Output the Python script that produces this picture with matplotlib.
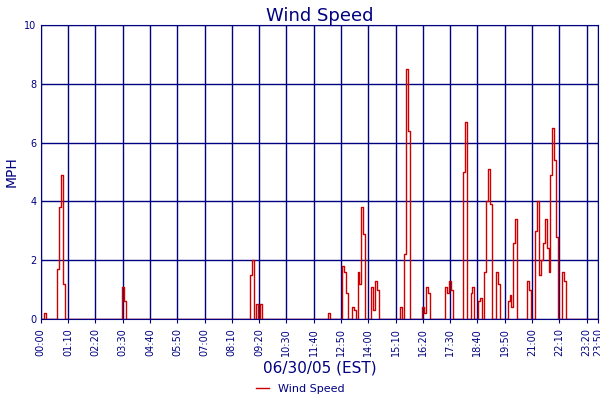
import numpy as np
import matplotlib
matplotlib.use("Agg")
import matplotlib.pyplot as plt

# nonzero readings: minute of day -> mph (everything else reads 0)
minutes = [10, 45, 50, 55, 60, 210, 215, 540, 545, 555, 565, 740,
           775, 780, 785, 800, 805, 815, 820, 825, 830, 850, 855, 860, 865,
           925, 935, 940, 945, 980, 985, 990, 995, 1040, 1045, 1050, 1055,
           1085, 1090, 1105, 1110, 1125, 1130, 1140, 1145, 1150, 1155,
           1170, 1175, 1200, 1205, 1210, 1215, 1220, 1250, 1255,
           1270, 1275, 1280, 1285, 1290, 1295, 1300,
           1305, 1310, 1315, 1320, 1325, 1340, 1345]
speeds = [0.2, 1.7, 3.8, 4.9, 1.2, 1.1, 0.6, 1.5, 2.0, 0.5, 0.5, 0.2,
          1.8, 1.6, 0.9, 0.4, 0.3, 1.6, 1.2, 3.8, 2.9, 1.1, 0.3, 1.3, 1.0,
          0.4, 2.2, 8.5, 6.4, 0.4, 0.2, 1.1, 0.9, 1.1, 0.9, 1.3, 1.0,
          5.0, 6.7, 0.9, 1.1, 0.6, 0.7, 1.6, 4.0, 5.1, 3.9,
          1.6, 1.2, 0.6, 0.8, 0.4, 2.6, 3.4, 1.3, 1.0,
          3.0, 4.0, 1.5, 2.0, 2.6, 3.4, 2.4,
          1.6, 4.9, 6.5, 5.4, 2.8, 1.6, 1.3]

tick_minutes = list(range(0, 1331, 70)) + [1400, 1430]
tick_labels = [f"{m // 60:02d}:{m % 60:02d}" for m in tick_minutes]

t = np.arange(0, 1431, 5)
v = np.zeros(len(t))
for m, s in zip(minutes, speeds):
    v[m // 5] = s

navy = "#000080"
fig = plt.figure(figsize=(6, 4), dpi=100)
ax = fig.add_axes([0.068, 0.2025, 0.929, 0.735])
ax.plot(t, v, color="#cc0000", lw=1, drawstyle="steps-mid", label="Wind Speed")
ax.set_xlim(0, 1430)
ax.set_ylim(0, 10)
ax.set_xticks(tick_minutes)
ax.set_xticklabels(tick_labels, rotation=90, fontsize=7, color=navy)
ax.set_yticks(range(0, 11, 2))
ax.tick_params(axis="y", labelsize=7, colors=navy, length=0, pad=3)
ax.tick_params(axis="x", colors=navy, length=3)
ax.grid(True, color=navy, lw=1)
for sp in ax.spines.values():
    sp.set_color(navy)
ax.set_title("Wind Speed", color=navy, fontsize=13, pad=3)
ax.set_ylabel("MPH", color=navy, fontsize=10, labelpad=4)
ax.set_xlabel("06/30/05 (EST)", color=navy, fontsize=11, labelpad=3)
leg = fig.legend(loc="lower center", bbox_to_anchor=(0.5, -0.01), frameon=False,
                 fontsize=8, handlelength=1.2)
for txt in leg.get_texts():
    txt.set_color(navy)
fig.savefig("out.png")
